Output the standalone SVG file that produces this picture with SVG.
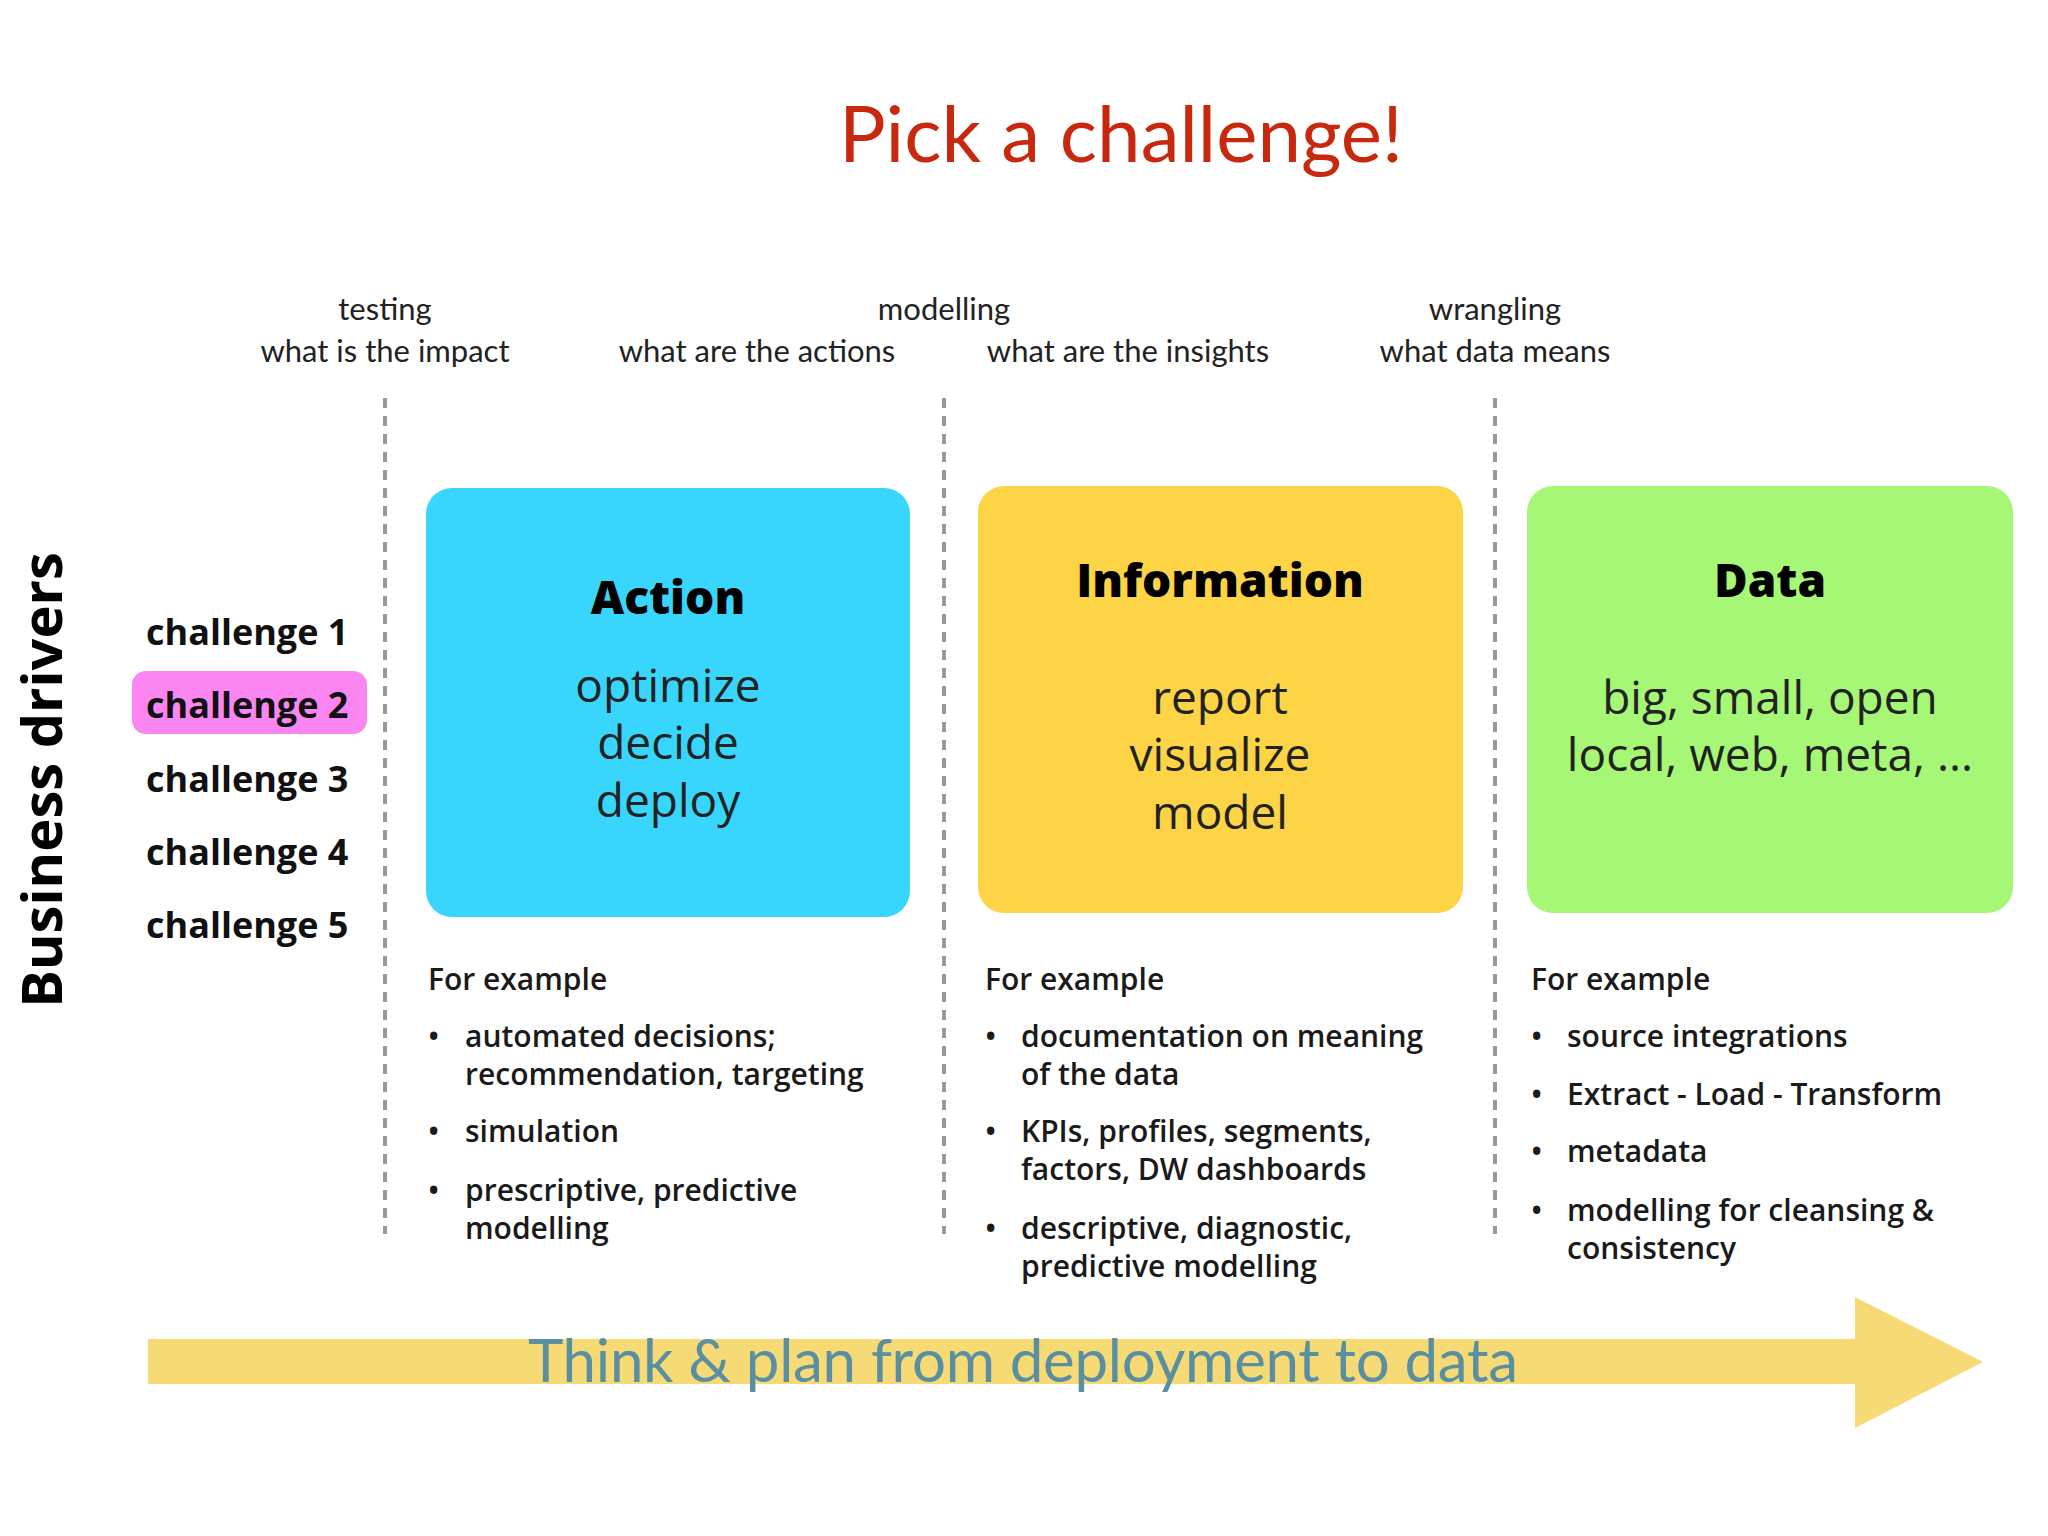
<svg xmlns="http://www.w3.org/2000/svg" width="2048" height="1536" viewBox="0 0 2048 1536">
<style>
.h{font-family:Lato,"Open Sans",sans-serif;font-size:31px;fill:#222;text-anchor:middle}
.ch{font-family:"Open Sans",sans-serif;font-weight:700;font-size:36px;fill:#111}
.bt{font-family:"Open Sans",sans-serif;font-weight:800;font-size:46px;fill:#000;text-anchor:middle}
.bb{font-family:"Open Sans",sans-serif;font-size:46px;fill:#222;text-anchor:middle}
.t{font-family:"Open Sans",sans-serif;font-weight:600;font-size:30px;fill:#1a1a1a}
.dl{stroke:#999;stroke-width:4;stroke-dasharray:10,8}
</style>
<rect width="2048" height="1536" fill="#fff"/>
<text x="1121" y="162" font-family="Lato,sans-serif" font-size="78" fill="#c8290e" text-anchor="middle">Pick a challenge!</text>
<g id="headers">
<text class="h" x="385" y="320">testing</text>
<text class="h" x="385" y="362">what is the impact</text>
<text class="h" x="944" y="320">modelling</text>
<text class="h" x="757" y="362">what are the actions</text>
<text class="h" x="1128" y="362">what are the insights</text>
<text class="h" x="1495" y="320">wrangling</text>
<text class="h" x="1495" y="362">what data means</text>
</g>
<g id="connectors">
<line class="dl" x1="385" y1="398" x2="385" y2="1234"/>
<line class="dl" x1="944" y1="398" x2="944" y2="1234"/>
<line class="dl" x1="1495" y1="398" x2="1495" y2="1234"/>
</g>
<text x="62" y="780" transform="rotate(-90 62 780)" font-family="'Open Sans',sans-serif" font-weight="700" font-size="56" fill="#000" text-anchor="middle">Business drivers</text>
<g id="challenges">
<rect x="132" y="671" width="235" height="63" rx="14" fill="#fb86f2"/>
<text class="ch" x="146" y="645">challenge 1</text>
<text class="ch" x="146" y="718">challenge 2</text>
<text class="ch" x="146" y="792">challenge 3</text>
<text class="ch" x="146" y="865">challenge 4</text>
<text class="ch" x="146" y="938">challenge 5</text>
</g>
<g id="action">
<rect x="426" y="488" width="484" height="429" rx="26" fill="#38d5fc"/>
<text class="bt" x="668" y="614">Action</text>
<text class="bb" x="668" y="702">optimize</text>
<text class="bb" x="668" y="759">decide</text>
<text class="bb" x="668" y="817">deploy</text>
</g>
<g id="information">
<rect x="978" y="486" width="485" height="427" rx="26" fill="#fdd446"/>
<text class="bt" x="1220" y="597">Information</text>
<text class="bb" x="1220" y="714">report</text>
<text class="bb" x="1220" y="771">visualize</text>
<text class="bb" x="1220" y="829">model</text>
</g>
<g id="data">
<rect x="1527" y="486" width="486" height="427" rx="26" fill="#a6f775"/>
<text class="bt" x="1770" y="597">Data</text>
<text class="bb" x="1770" y="714">big, small, open</text>
<text class="bb" x="1770" y="771">local, web, meta, ...</text>
</g>
<g id="ex-action">
<text class="t" x="428" y="990">For example</text>
<text class="t" x="428" y="1047">•</text><text class="t" x="465" y="1047">automated decisions;</text>
<text class="t" x="465" y="1085">recommendation, targeting</text>
<text class="t" x="428" y="1142">•</text><text class="t" x="465" y="1142">simulation</text>
<text class="t" x="428" y="1201">•</text><text class="t" x="465" y="1201">prescriptive, predictive</text>
<text class="t" x="465" y="1239">modelling</text>
</g>
<g id="ex-info">
<text class="t" x="985" y="990">For example</text>
<text class="t" x="985" y="1047">•</text><text class="t" x="1021" y="1047">documentation on meaning</text>
<text class="t" x="1021" y="1085">of the data</text>
<text class="t" x="985" y="1142">•</text><text class="t" x="1021" y="1142">KPIs, profiles, segments,</text>
<text class="t" x="1021" y="1180">factors, DW dashboards</text>
<text class="t" x="985" y="1239">•</text><text class="t" x="1021" y="1239">descriptive, diagnostic,</text>
<text class="t" x="1021" y="1277">predictive modelling</text>
</g>
<g id="ex-data">
<text class="t" x="1531" y="990">For example</text>
<text class="t" x="1531" y="1047">•</text><text class="t" x="1567" y="1047">source integrations</text>
<text class="t" x="1531" y="1105">•</text><text class="t" x="1567" y="1105">Extract - Load - Transform</text>
<text class="t" x="1531" y="1162">•</text><text class="t" x="1567" y="1162">metadata</text>
<text class="t" x="1531" y="1221">•</text><text class="t" x="1567" y="1221">modelling for cleansing &amp;</text>
<text class="t" x="1567" y="1259">consistency</text>
</g>
<g id="arrow">
<path d="M148 1339 H1855 V1297 L1983 1362 L1855 1428 V1384 H148 Z" fill="#f4d35e" opacity="0.85"/>
<text x="528" y="1382" font-family="Lato,sans-serif" font-size="60" fill="#5a8fa2" textLength="990">Think &amp; plan from deployment to data</text>
</g>
</svg>
